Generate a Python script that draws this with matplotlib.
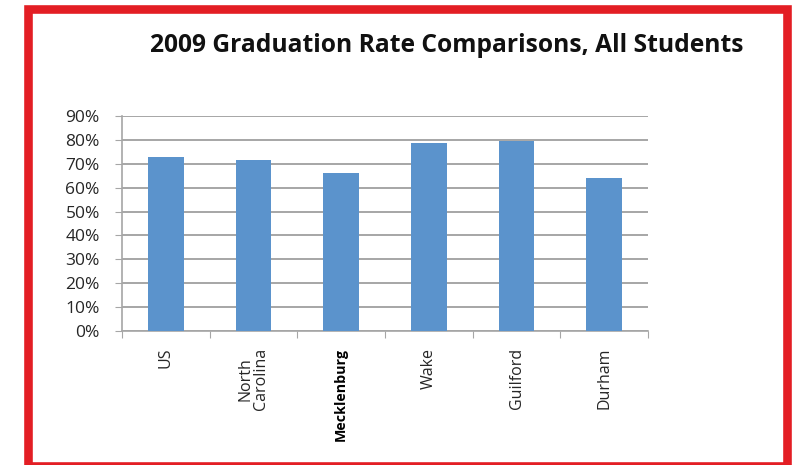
import numpy as np
from matplotlib import pyplot as plt
from matplotlib.patches import Rectangle
from matplotlib.ticker import FixedLocator, FuncFormatter

# 데이터
places = ['US', 'North\nCarolina', 'Mecklenburg', 'Wake', 'Guilford', 'Durham']
rates = [73, 71.5, 66, 78.7, 79.5, 64]
y_ticks = [0, 10, 20, 30, 40, 50, 60, 70, 80, 90]

W, H = 792, 465
fig = plt.figure(figsize=(W / 100, H / 100), dpi=100)
plt.rcParams['font.family'] = ['Open Sans', 'DejaVu Sans']

# 축 위치 (픽셀 -> 비율)
left, right, bottom, top = 122, 648, 331, 116
ax = fig.add_axes([left / W, 1 - bottom / H, (right - left) / W, (bottom - top) / H])

x = np.arange(len(places))
ax.bar(x, rates, width=0.41, color='#5b93cc', zorder=3)

ax.set_xlim(-0.5, len(places) - 0.5)
ax.set_ylim(0, 90)
ax.yaxis.set_major_locator(FixedLocator(y_ticks))
ax.yaxis.set_major_formatter(FuncFormatter(lambda v, p: f'{v:.0f}%'))
ax.grid(axis='y', color='#a6a6a6', linewidth=1.4, zorder=0)

for s in ['top', 'right']:
    ax.spines[s].set_visible(False)
for s in ['left', 'bottom']:
    ax.spines[s].set_color('#a6a6a6')
    ax.spines[s].set_linewidth(1.2)

ax.tick_params(axis='y', length=5, color='#a6a6a6', labelsize=12.5, labelcolor='#262626', pad=11)

# 카테고리 경계에 눈금
ax.set_xticks(np.arange(len(places) + 1) - 0.5)
ax.set_xticklabels([])
ax.tick_params(axis='x', length=5, color='#a6a6a6', direction='out')
ax.set_xticks(x, minor=True)
ax.set_xticklabels(places, minor=True, rotation=90, fontsize=11.5, color='#262626',
                   va='top', ha='center', linespacing=0.95)
ax.tick_params(axis='x', which='minor', length=0, pad=12)
for lbl in ax.get_xticklabels(minor=True):
    if lbl.get_text() == 'Mecklenburg':
        lbl.set_fontweight('bold')
        lbl.set_fontsize(10.3)
        lbl.set_color('black')

fig.text(447 / W, 1 - 45 / H, '2009 Graduation Rate Comparisons, All Students',
         ha='center', va='center', fontsize=17.7, fontweight='bold', color='#111111')

# 빨간 테두리
fig.patches.append(Rectangle((27.5 / W, 1 - 466 / H), (787 - 27.5) / W, (466 - 9) / H,
                             transform=fig.transFigure, fill=False,
                             edgecolor='#e31e24', linewidth=6.2))

fig.savefig('out.png', dpi=100)
